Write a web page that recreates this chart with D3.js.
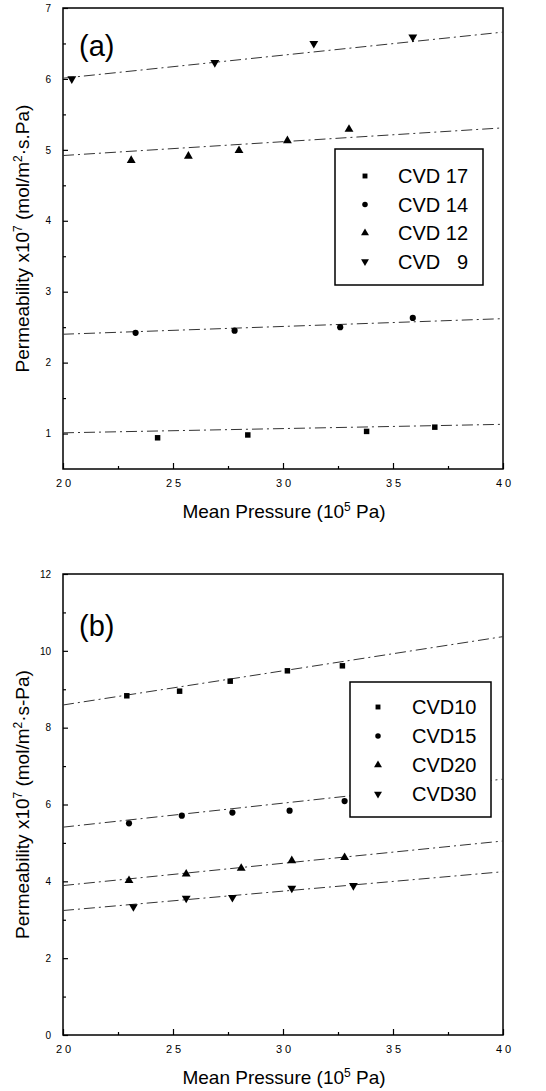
<!DOCTYPE html>
<html>
<head>
<meta charset="utf-8">
<script src="https://cdn.jsdelivr.net/npm/d3@7"></script>
<style>
  body { margin: 0; background: #fff; }
  svg { display: block; font-family: "Liberation Sans", Arial, sans-serif; }
</style>
</head>
<body>
<script>
// x axis shared by both panels
const xTicks = [20, 25, 30, 35, 40];
const xMinor = [22.5, 27.5, 32.5, 37.5];

// panel (a)
const namesA = ["CVD 17", "CVD 14", "CVD 12", "CVD \u00a0 9"];
const pressA17 = [24.3, 28.4, 33.8, 36.9];
const permA17 = [0.94, 0.98, 1.03, 1.09];
const pressA14 = [23.3, 27.8, 32.6, 35.9];
const permA14 = [2.42, 2.45, 2.50, 2.63];
const pressA12 = [23.1, 25.7, 28.0, 30.2, 33.0];
const permA12 = [4.85, 4.91, 4.99, 5.13, 5.29];
const pressA9 = [20.4, 26.9, 31.4, 35.9];
const permA9 = [6.00, 6.23, 6.50, 6.59];
const fitA = [[1.01, 1.13], [2.40, 2.62], [4.92, 5.31], [6.01, 6.66]];  // value at 20 and 40
const yTicksA = [1, 2, 3, 4, 5, 6, 7];
const yMinorA = [1.5, 2.5, 3.5, 4.5, 5.5, 6.5];

// panel (b)
const namesB = ["CVD10", "CVD15", "CVD20", "CVD30"];
const pressB10 = [22.9, 25.3, 27.6, 30.2, 32.7];
const permB10 = [8.83, 8.95, 9.21, 9.48, 9.61];
const pressB15 = [23.0, 25.4, 27.7, 30.3, 32.8];
const permB15 = [5.51, 5.71, 5.79, 5.84, 6.09];
const pressB20 = [23.0, 25.6, 28.1, 30.4, 32.8];
const permB20 = [4.02, 4.19, 4.34, 4.54, 4.62];
const pressB30 = [23.2, 25.6, 27.7, 30.4, 33.2];
const permB30 = [3.34, 3.56, 3.58, 3.82, 3.89];
const fitB = [[8.59, 10.37], [5.41, 6.66], [3.89, 5.05], [3.24, 4.25]];
const yTicksB = [0, 2, 4, 6, 8, 10, 12];
const yMinorB = [1, 3, 5, 7, 9, 11];

const symbols = [d3.symbolSquare, d3.symbolCircle, d3.symbolTriangle, d3.symbolTriangle];
const symSize = [30, 30, 34, 34];
const symRot = [0, 0, 0, 180];

const svg = d3.select("body").append("svg")
    .attr("width", 546)
    .attr("height", 1091);

function zip(xs, ys) { return xs.map((x, i) => ({x: x, y: ys[i]})); }

function drawPanel(p) {
    const x = d3.scaleLinear().domain([20, 40]).range([63, 503]);
    const y = d3.scaleLinear().domain(p.yDomain).range([p.bottom, p.top]);
    const g = svg.append("g");

    // frame
    g.append("rect")
        .attr("x", x(20)).attr("y", p.top)
        .attr("width", x(40) - x(20)).attr("height", p.bottom - p.top)
        .attr("fill", "none").attr("stroke", "#000").attr("stroke-width", 1.5);

    // bottom axis, ticks pointing in
    const xAxis = g.append("g").attr("transform", "translate(0," + p.bottom + ")")
        .call(d3.axisBottom(x).tickValues(xTicks).tickFormat(d3.format("d"))
            .tickSizeInner(-6).tickSizeOuter(0).tickPadding(10));
    xAxis.select(".domain").remove();
    xAxis.selectAll("text").attr("font-size", 11).attr("letter-spacing", "3px")
        .attr("font-family", "Liberation Sans, Arial, sans-serif").attr("dx", "1.5px");
    g.append("g").attr("transform", "translate(0," + p.bottom + ")")
        .call(d3.axisBottom(x).tickValues(xMinor).tickSize(-3).tickFormat(""))
        .select(".domain").remove();

    // left axis
    const yAxis = g.append("g").attr("transform", "translate(" + x(20) + ",0)")
        .call(d3.axisLeft(y).tickValues(p.yTicks).tickFormat(d3.format("d"))
            .tickSizeInner(-5).tickSizeOuter(0).tickPadding(12));
    yAxis.select(".domain").remove();
    yAxis.selectAll("text").attr("font-size", 10)
        .attr("font-family", "Liberation Sans, Arial, sans-serif");
    g.append("g").attr("transform", "translate(" + x(20) + ",0)")
        .call(d3.axisLeft(y).tickValues(p.yMinor).tickSize(-3).tickFormat(""))
        .select(".domain").remove();
    g.selectAll(".tick line").attr("stroke", "#000").attr("stroke-width", 1.2);

    // fitted lines
    p.fits.forEach(f => {
        g.append("line")
            .attr("x1", x(20)).attr("y1", y(f[0]))
            .attr("x2", x(40)).attr("y2", y(f[1]))
            .attr("stroke", "#333").attr("stroke-width", 1)
            .attr("stroke-dasharray", "11,4,2,4");
    });

    // markers
    p.series.forEach((s, i) => {
        g.append("g").selectAll("path")
            .data(s)
            .enter()
            .append("path")
            .attr("d", d3.symbol().type(symbols[i]).size(symSize[i]))
            .attr("transform", d => "translate(" + x(d.x) + "," + y(d.y) + ") rotate(" + symRot[i] + ")")
            .attr("fill", "#000");
    });

    // legend
    const lg = g.append("g");
    lg.append("rect")
        .attr("x", p.legend.x).attr("y", p.legend.y)
        .attr("width", p.legend.w).attr("height", p.legend.h)
        .attr("fill", "#fff").attr("stroke", "#000").attr("stroke-width", 1.5);
    p.names.forEach((n, i) => {
        const cy = p.legend.y + p.legend.first + i * p.legend.step;
        lg.append("path")
            .attr("d", d3.symbol().type(symbols[i]).size(symSize[i] * 0.8))
            .attr("transform", "translate(" + (p.legend.x + p.legend.mx) + "," + cy + ") rotate(" + symRot[i] + ")")
            .attr("fill", "#000");
        lg.append("text")
            .attr("x", p.legend.x + p.legend.tx).attr("y", cy + 7)
            .attr("font-size", 20)
            .text(n);
    });

    // panel label
    g.append("text").attr("x", 79).attr("y", p.labelY)
        .attr("font-size", 29).text(p.label);

    // axis titles
    const xt = g.append("text").attr("x", 284).attr("y", p.bottom + 49)
        .attr("text-anchor", "middle").attr("font-size", 19);
    xt.append("tspan").text("Mean Pressure (10");
    xt.append("tspan").attr("font-size", 12).attr("dy", -7).text("5");
    xt.append("tspan").attr("dy", 7).text(" Pa)");

    const yt = g.append("text")
        .attr("transform", "translate(29," + ((p.top + p.bottom) / 2) + ") rotate(-90)")
        .attr("text-anchor", "middle").attr("font-size", 19);
    yt.append("tspan").text("Permeability x10");
    yt.append("tspan").attr("font-size", 12).attr("dy", -7).text("7");
    yt.append("tspan").attr("dy", 7).text(" (mol/m");
    yt.append("tspan").attr("font-size", 12).attr("dy", -7).text("2");
    yt.append("tspan").attr("dy", 7).text(p.unitTail);
}

drawPanel({
    top: 8, bottom: 469, yDomain: [0.5, 7],
    yTicks: yTicksA, yMinor: yMinorA,
    series: [zip(pressA17, permA17), zip(pressA14, permA14), zip(pressA12, permA12), zip(pressA9, permA9)],
    fits: fitA, names: namesA,
    legend: {x: 335, y: 149, w: 148, h: 136, first: 27, step: 28.5, mx: 30, tx: 63},
    label: "(a)", labelY: 56, unitTail: "\u00b7s.Pa)"
});

drawPanel({
    top: 574, bottom: 1035, yDomain: [0, 12],
    yTicks: yTicksB, yMinor: yMinorB,
    series: [zip(pressB10, permB10), zip(pressB15, permB15), zip(pressB20, permB20), zip(pressB30, permB30)],
    fits: fitB, names: namesB,
    legend: {x: 350, y: 682, w: 141, h: 135, first: 25, step: 29, mx: 28, tx: 62},
    label: "(b)", labelY: 636, unitTail: "\u00b7s-Pa)"
});
</script>
</body>
</html>
